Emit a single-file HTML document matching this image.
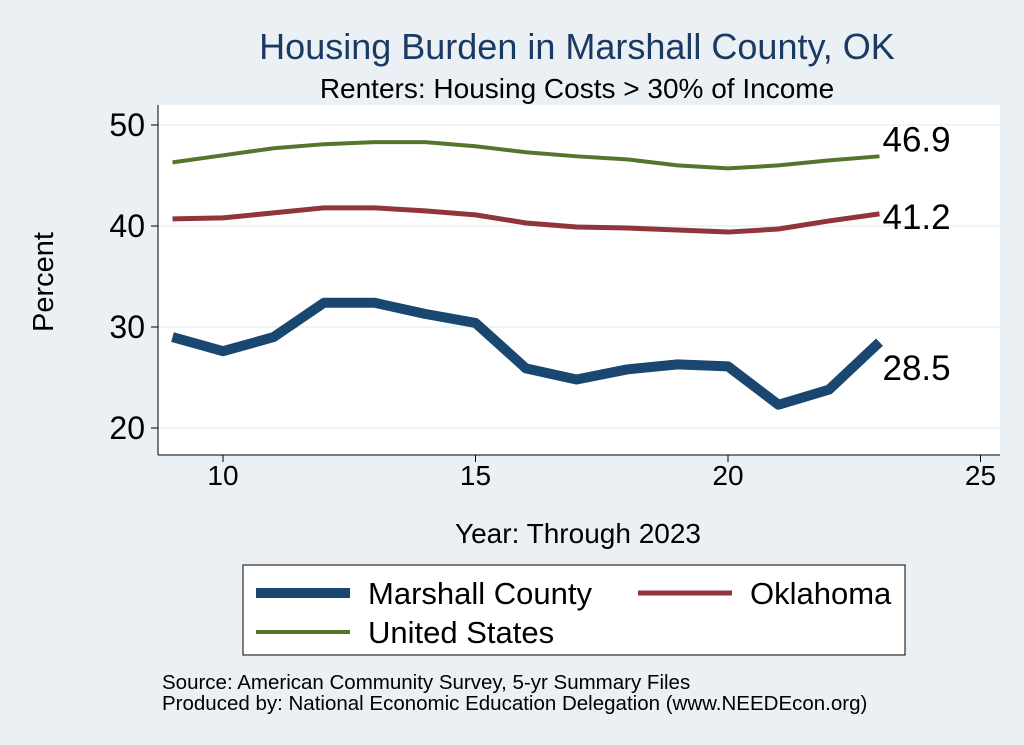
<!DOCTYPE html>
<html><head><meta charset="utf-8"><style>
body{margin:0;background:#eaf0f3;font-family:"Liberation Sans",sans-serif}
svg{display:block}
</style></head><body>
<svg id="c" width="1024" height="745" xmlns="http://www.w3.org/2000/svg">
<rect width="1024" height="745" fill="#eaf0f3"/>
<rect x="158" y="105" width="842" height="350" fill="#ffffff"/>
<text x="577" y="59" font-size="36" fill="#1a3a63" text-anchor="middle">Housing Burden in Marshall County, OK</text>
<text x="577" y="98" font-size="28" fill="#000" text-anchor="middle">Renters: Housing Costs &gt; 30% of Income</text>
<g id="grid"></g><g id="axes"></g><g id="series"></g>
<text x="53" y="282" font-size="29" text-anchor="middle" transform="rotate(-90 53 282)">Percent</text>
<text x="578" y="543" font-size="28" text-anchor="middle">Year: Through 2023</text>
<g>
<rect x="243" y="565" width="662" height="90" fill="#fff" stroke="#000" stroke-width="1"/>
<line x1="256" y1="593" x2="350" y2="593" stroke="#1a476f" stroke-width="10"/>
<text x="368" y="604" font-size="31">Marshall County</text>
<line x1="638" y1="593" x2="732" y2="593" stroke="#90353b" stroke-width="5"/>
<text x="750" y="604" font-size="31">Oklahoma</text>
<line x1="256" y1="632" x2="350" y2="632" stroke="#55752f" stroke-width="4"/>
<text x="368" y="643" font-size="31">United States</text>
</g>
<text x="162" y="689" font-size="20.5">Source: American Community Survey, 5-yr Summary Files</text>
<text x="162" y="710" font-size="20.5">Produced by: National Economic Education Delegation (www.NEEDEcon.org)</text>
</svg>
<script>
const years=[9,10,11,12,13,14,15,16,17,18,19,20,21,22,23];
const usVals=[46.3,47.0,47.7,48.1,48.3,48.3,47.9,47.3,46.9,46.6,46.0,45.7,46.0,46.5,46.9];
const okVals=[40.7,40.8,41.3,41.8,41.8,41.5,41.1,40.3,39.9,39.8,39.6,39.4,39.7,40.5,41.2];
const mcVals=[29.0,27.6,29.0,32.4,32.4,31.3,30.4,25.9,24.8,25.8,26.3,26.1,22.3,23.8,28.5];
const xTicks=[10,15,20,25];
const yTicks=[20,30,40,50];
const NS="http://www.w3.org/2000/svg";
const X=v=>223+(v-10)*50.5;
const Y=v=>428-(v-20)*10.1;
function mk(t,a,p){const e=document.createElementNS(NS,t);for(const k in a)e.setAttribute(k,a[k]);p.appendChild(e);return e;}
const grid=document.getElementById('grid'),axes=document.getElementById('axes'),ser=document.getElementById('series');
yTicks.forEach(v=>{
 const g=mk('line',{x1:158,x2:1000,y1:Y(v),y2:Y(v),stroke:'#eaf0f3','stroke-width':1.5},grid);
 
 
 const t=mk('line',{x1:151,x2:158,y1:Y(v),y2:Y(v),stroke:'#000'},axes);
 
 
 const l=mk('text',{x:145,y:Y(v)+11,'font-size':32,'text-anchor':'end'},axes);l.textContent=v;
 
 
});
mk('line',{x1:158,x2:158,y1:105,y2:455,stroke:'#000'},axes);
mk('line',{x1:158,x2:1000,y1:455,y2:455,stroke:'#000'},axes);
xTicks.forEach(v=>{
 const t=mk('line',{x1:X(v),x2:X(v),y1:455,y2:462,stroke:'#000'},axes);
 
 
 const l=mk('text',{x:X(v),y:485,'font-size':28,'text-anchor':'middle'},axes);l.textContent=v;
 
 
});
function line(vals,color,w,name,ly){
 const d=vals.map((v,i)=>(i?'L':'M')+X(years[i])+' '+Y(v)).join(' ');
 const p=mk('path',{d:d,fill:'none',stroke:color,'stroke-width':w,'stroke-linejoin':'round'},ser);
 
 
 const last=vals[vals.length-1];
 const t=mk('text',{x:X(years[years.length-1])+3,y:Y(last)+ly,'font-size':35},ser);t.textContent=last.toFixed(1);
 
 
}
line(usVals,'#55752f',4,'us',-5);
line(okVals,'#90353b',5,'oklahoma',15);
line(mcVals,'#1a476f',10,'marshall',38);
</script>
</body></html>
